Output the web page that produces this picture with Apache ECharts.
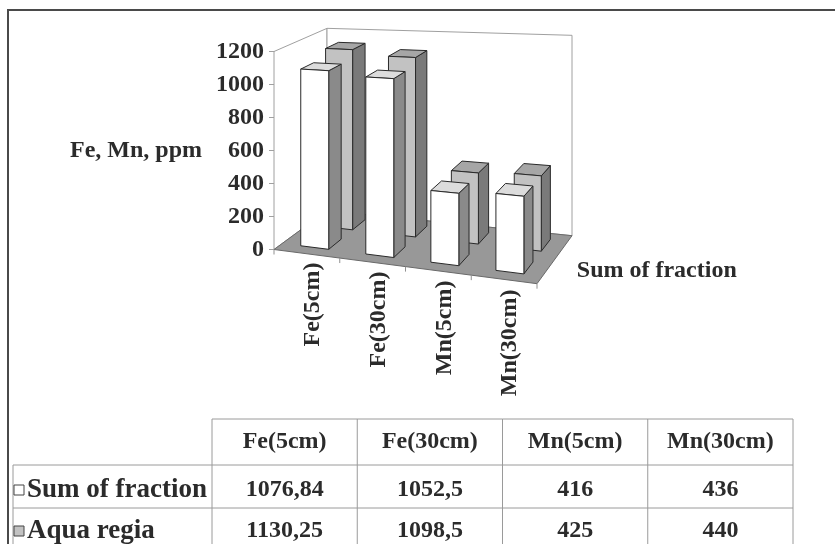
<!DOCTYPE html>
<html>
<head>
<meta charset="utf-8">
<script src="https://cdn.jsdelivr.net/npm/echarts@6/dist/echarts.min.js"></script>
<style>
html,body{margin:0;padding:0;background:#fff;}
#chart{width:835px;height:544px;}
</style>
</head>
<body>
<div id="chart"></div>
<script>
// ---- data ----
const categories = ['Fe(5cm)', 'Fe(30cm)', 'Mn(5cm)', 'Mn(30cm)'];
const seriesNames = ['Sum of fraction', 'Aqua regia'];
const sumOfFraction = [1076.84, 1052.5, 416, 436];
const aquaRegia = [1130.25, 1098.5, 425, 440];
const yAxisName = 'Fe, Mn, ppm';
const yMin = 0, yMax = 1200, yStep = 200;

// ---- styling / projection constants ----
const FONT = 'Liberation Serif';
const SLOPE = 0.13;             // front edge slope
const DV_L = [53, -39];         // floor depth vector at left
const DV_R = [35, -48];         // floor depth vector at right
const SHRINK = 0.08;            // perspective shrink of heights with depth
const GROW = 0.1;               // perspective growth of heights to the right
const ROW_D = [0.28, 0.76];     // depth position of the two series rows
const BAR_DEPTH = 0.25;
const BAR_W = 0.43;
const COLORS = [
  {front: '#ffffff', side: '#8a8a8a', top: '#dcdcdc'},
  {front: '#c2c2c2', side: '#7a7a7a', top: '#a6a6a6'}
];

function makeProj(params, api) {
  const cs = params.coordSys;
  const gLeft = cs.x, gWidth = cs.width, y0 = cs.y + cs.height;
  return function (gx, h, d) {
    const t = (gx - gLeft) / gWidth;
    const dvx = DV_L[0] + (DV_R[0] - DV_L[0]) * t;
    const dvy = DV_L[1] + (DV_R[1] - DV_L[1]) * t;
    return [gx + d * dvx,
            y0 + (gx - gLeft) * SLOPE + d * dvy - h * (1 - SHRINK * d) * (1 + GROW * t)];
  };
}

function barRender(sIdx) {
  return function (params, api) {
    const P = makeProj(params, api);
    const i = api.value(0), v = api.value(1);
    const base = api.coord([i, 0]);
    const h = base[1] - api.coord([i, v])[1];
    const catW = api.size([1, 0])[0];
    const xl = base[0] - BAR_W / 2 * catW, xr = base[0] + BAR_W / 2 * catW;
    const d1 = ROW_D[sIdx] - BAR_DEPTH / 2, d2 = ROW_D[sIdx] + BAR_DEPTH / 2;
    const c = COLORS[sIdx];
    const st = (fill) => ({fill: fill, stroke: '#2a2a2a', lineWidth: 1, lineJoin: 'round'});
    return {
      type: 'group',
      children: [
        {type: 'polygon', shape: {points: [P(xr,0,d1), P(xr,0,d2), P(xr,h,d2), P(xr,h,d1)]}, style: st(c.side)},
        {type: 'polygon', shape: {points: [P(xl,h,d1), P(xr,h,d1), P(xr,h,d2), P(xl,h,d2)]}, style: st(c.top)},
        {type: 'polygon', shape: {points: [P(xl,0,d1), P(xr,0,d1), P(xr,h,d1), P(xl,h,d1)]}, style: st(c.front)}
      ]
    };
  };
}

function floorRender(params, api) {
  const P = makeProj(params, api);
  const cs = params.coordSys;
  const L = cs.x, R = cs.x + cs.width;
  const base = api.coord([0, 0]);
  const H = base[1] - api.coord([0, yMax])[1];
  const catW = api.size([1, 0])[0];
  const children = [
    // left wall
    {type: 'polygon', shape: {points: [P(L,0,0), P(L,0,1), P(L,H,1), P(L,H,0)]},
     style: {fill: '#ffffff', stroke: '#a0a0a0', lineWidth: 1}},
    // back wall
    {type: 'polygon', shape: {points: [P(L,0,1), P(R,0,1), P(R,H,1), P(L,H,1)]},
     style: {fill: '#ffffff', stroke: '#a0a0a0', lineWidth: 1}},
    // floor
    {type: 'polygon', shape: {points: [P(L,0,0), P(R,0,0), P(R,0,1), P(L,0,1)]},
     style: {fill: '#989898', stroke: '#6a6a6a', lineWidth: 1}}
  ];
  for (let k = 0; k <= categories.length; k++) {
    const gx = L + k * catW;
    const p = P(gx, 0, 0);
    children.push({type: 'line', shape: {x1: p[0], y1: p[1], x2: p[0], y2: p[1] + 5},
      style: {stroke: '#909090', lineWidth: 1}});
  }
  const lp = P(R, 0, ROW_D[0]);
  children.push({type: 'text', x: lp[0] + 30, y: lp[1] + 1,
    style: {text: seriesNames[0], fill: '#2b2b2b', font: 'bold 24px "' + FONT + '"',
            align: 'left', verticalAlign: 'middle'}});
  return {type: 'group', children: children};
}

// ---- table (graphic) ----
const fmt = (v) => String(v).replace('.', ',');
const tableLeft = 212, colW = 145.25, rowLeft = 13;
const rowLines = [419, 465, 508];
const tableBottom = 560;
const rowTextY = [442, 490, 531];
const lineStyle = {stroke: '#9a9a9a', lineWidth: 1};
const tfont = 'bold 24px "' + FONT + '"';
const lfont = 'bold 27px "' + FONT + '"';
const gEls = [];
// chart frame
gEls.push({type: 'rect', shape: {x: 8, y: 10, width: 900, height: 600},
  style: {fill: 'none', stroke: '#4a4a4a', lineWidth: 2}, silent: true});
const tableRight = tableLeft + colW * categories.length;
gEls.push({type: 'line', shape: {x1: tableLeft, y1: rowLines[0], x2: tableRight, y2: rowLines[0]}, style: lineStyle});
for (let r = 1; r < rowLines.length; r++) {
  gEls.push({type: 'line', shape: {x1: rowLeft, y1: rowLines[r], x2: tableRight, y2: rowLines[r]}, style: lineStyle});
}
for (let k = 0; k <= categories.length; k++) {
  const x = tableLeft + k * colW;
  gEls.push({type: 'line', shape: {x1: x, y1: rowLines[0], x2: x, y2: tableBottom}, style: lineStyle});
}
gEls.push({type: 'line', shape: {x1: rowLeft, y1: rowLines[1], x2: rowLeft, y2: tableBottom}, style: lineStyle});
categories.forEach((c, k) => {
  gEls.push({type: 'text', x: tableLeft + (k + 0.5) * colW, y: rowTextY[0],
    style: {text: c, font: tfont, fill: '#2b2b2b', align: 'center', verticalAlign: 'middle'}});
});
[sumOfFraction, aquaRegia].forEach((arr, r) => {
  arr.forEach((v, k) => {
    gEls.push({type: 'text', x: tableLeft + (k + 0.5) * colW, y: rowTextY[r + 1],
      style: {text: fmt(v), font: tfont, fill: '#2b2b2b', align: 'center', verticalAlign: 'middle'}});
  });
  gEls.push({type: 'rect', shape: {x: 14, y: rowTextY[r + 1] - 5, width: 10, height: 10},
    style: {fill: COLORS[r].front, stroke: '#444', lineWidth: 1}});
  gEls.push({type: 'text', x: 27, y: rowTextY[r + 1],
    style: {text: seriesNames[r], font: lfont, fill: '#2b2b2b', align: 'left', verticalAlign: 'middle'}});
});

// ---- x label rich styles (labels step down along the sloped front edge) ----
const rich = {};
categories.forEach((c, k) => {
  rich['p' + k] = {fontFamily: FONT, fontWeight: 'bold', fontSize: 24, color: '#2b2b2b',
                   padding: [12, k * 9, 0, 0]};
});

const chart = echarts.init(document.getElementById('chart'));
chart.setOption({
  backgroundColor: '#ffffff',
  animation: false,
  grid: {left: 274, top: 51.5, width: 263, height: 198, outerBoundsMode: 'none'},
  xAxis: {
    type: 'category', data: categories,
    axisLine: {show: false}, axisTick: {show: false},
    axisLabel: {rotate: 90, interval: 0, margin: 13,
      formatter: (v, i) => '{p' + i + '|' + v + '}', rich: rich}
  },
  yAxis: {
    type: 'value', min: yMin, max: yMax, interval: yStep,
    name: yAxisName, nameLocation: 'middle', nameRotate: 0, nameGap: 72,
    nameTextStyle: {fontFamily: FONT, fontWeight: 'bold', fontSize: 24, color: '#2b2b2b',
                    padding: [6, 0, 0, 0]},
    axisLine: {show: true, lineStyle: {color: '#a0a0a0'}},
    axisTick: {show: true, length: 5, lineStyle: {color: '#a0a0a0'}},
    axisLabel: {fontFamily: FONT, fontWeight: 'bold', fontSize: 24, color: '#2b2b2b', margin: 10,
                formatter: (v) => String(v)},
    splitLine: {show: false}
  },
  graphic: {elements: gEls},
  series: [
    {type: 'custom', name: 'floor', renderItem: floorRender, data: [[0, 0]], silent: true, z: 1},
    {type: 'custom', name: seriesNames[1], renderItem: barRender(1),
     data: aquaRegia.map((v, i) => [i, v]), z: 2},
    {type: 'custom', name: seriesNames[0], renderItem: barRender(0),
     data: sumOfFraction.map((v, i) => [i, v]), z: 3}
  ]
});
</script>
</body>
</html>
